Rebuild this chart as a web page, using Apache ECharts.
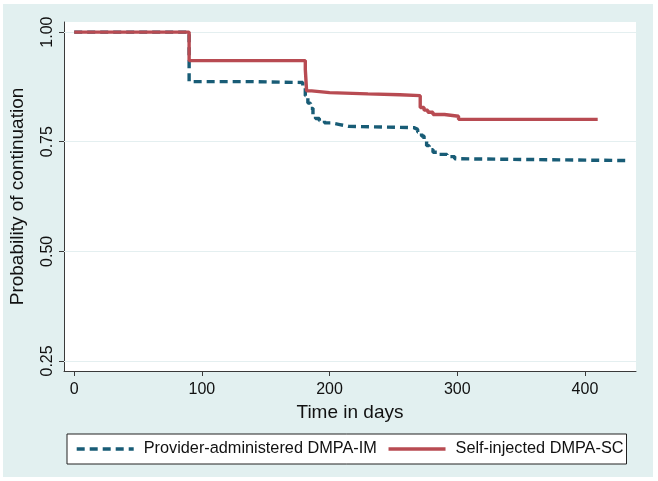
<!DOCTYPE html>
<html>
<head>
<meta charset="utf-8">
<script src="https://cdn.jsdelivr.net/npm/echarts@6/dist/echarts.min.js"></script>
<style>
html,body{margin:0;padding:0;background:#ffffff;}
#chart{width:658px;height:481px;}
</style>
</head>
<body>
<div id="chart"></div>
<script>
// Provider-administered DMPA-IM (Kaplan-Meier estimate)
const imTime = [0, 90, 140, 179, 181, 183, 185, 187, 189, 192, 196, 201, 208, 215, 266, 269, 272, 274, 276, 278, 281, 286, 292, 298, 303, 432];
const imSurv = [1.000, 0.887, 0.885, 0.872, 0.855, 0.838, 0.826, 0.812, 0.803, 0.798, 0.793, 0.789, 0.785, 0.782, 0.778, 0.772, 0.763, 0.752, 0.741, 0.732, 0.726, 0.721, 0.716, 0.711, 0.707, 0.706];
// Self-injected DMPA-SC (Kaplan-Meier estimate)
const scTime = [0, 90, 181, 182, 186, 200, 230, 255, 271, 274, 277, 281, 290, 301, 410];
const scSurv = [1.000, 0.935, 0.915, 0.866, 0.862, 0.859, 0.857, 0.855, 0.828, 0.822, 0.817, 0.812, 0.808, 0.801, 0.801];

const seriesNames = ['Provider-administered DMPA-IM', 'Self-injected DMPA-SC'];
const xTicks = [0, 100, 200, 300, 400];
const yTicks = [0.25, 0.50, 0.75, 1.00];
const xTitle = 'Time in days';
const yTitle = 'Probability of continuation';

const FONT = '"Liberation Sans", Arial, Helvetica, sans-serif';
const zip = (a, b) => a.map((t, i) => [t, b[i]]);

const chart = echarts.init(document.getElementById('chart'), null, {renderer: 'canvas'});
chart.setOption({
  animation: false,
  backgroundColor: '#ffffff',
  textStyle: {fontFamily: FONT},
  graphic: [{
    type: 'rect', z: -10, silent: true,
    shape: {x: 3, y: 4, width: 650, height: 473},
    style: {fill: '#e2f0f0'}
  }],
  grid: {
    left: 64, right: 22, top: 22, bottom: 110,
    show: true, backgroundColor: '#ffffff', borderWidth: 0
  },
  legend: {
    left: 67, top: 434,
    orient: 'horizontal',
    backgroundColor: '#ffffff',
    borderColor: '#222222', borderWidth: 1, borderRadius: 0,
    padding: [7, 3, 7, 8],
    itemGap: 10, itemWidth: 57, itemHeight: 16,
    lineStyle: {width: 3.4},
    itemStyle: {opacity: 0, color: 'rgba(0,0,0,0)', borderWidth: 0},
    textStyle: {fontFamily: FONT, fontSize: 16.3, color: '#111111', padding: [0, 0, 0, 5]},
    data: seriesNames
  },
  xAxis: {
    type: 'value', min: -8, max: 440,
    name: xTitle, nameLocation: 'middle', nameGap: 31,
    nameTextStyle: {fontFamily: FONT, fontSize: 19, color: '#111111'},
    axisLine: {show: true, onZero: false, lineStyle: {color: '#3a3a3a', width: 1}},
    axisTick: {show: true, length: 5, customValues: xTicks, lineStyle: {color: '#3a3a3a'}},
    axisLabel: {customValues: xTicks, margin: 11, fontFamily: FONT, fontSize: 16, color: '#111111'},
    splitLine: {show: false}
  },
  yAxis: {
    type: 'value', min: 0.227, max: 1.023,
    name: yTitle, nameLocation: 'middle', nameGap: 37, nameRotate: 90,
    nameTextStyle: {fontFamily: FONT, fontSize: 19, color: '#111111'},
    axisLine: {show: true, onZero: false, lineStyle: {color: '#3a3a3a', width: 1}},
    axisTick: {show: true, length: 5, customValues: yTicks, lineStyle: {color: '#3a3a3a'}},
    axisLabel: {customValues: yTicks, rotate: 90, margin: 8, fontFamily: FONT, fontSize: 16, color: '#111111',
      formatter: v => v.toFixed(2)},
    splitLine: {show: false}
  },
  series: [
    {
      name: seriesNames[0], type: 'line', step: 'end', z: 10,
      symbol: 'none', showSymbol: false,
      data: zip(imTime, imSurv),
      lineStyle: {color: '#185c76', width: 3.4, type: [8, 5], cap: 'butt'},
      itemStyle: {color: '#185c76'},
      markLine: {
        silent: true, symbol: ['none', 'none'],
        label: {show: false},
        lineStyle: {color: '#e4eff0', width: 1, type: 'solid'},
        data: yTicks.map(v => ({yAxis: v}))
      }
    },
    {
      name: seriesNames[1], type: 'line', step: 'end', z: 11,
      symbol: 'none', showSymbol: false,
      data: zip(scTime, scSurv),
      lineStyle: {color: '#b84b52', width: 3.4, type: 'solid'},
      itemStyle: {color: '#b84b52'}
    }
  ]
});
</script>
</body>
</html>
